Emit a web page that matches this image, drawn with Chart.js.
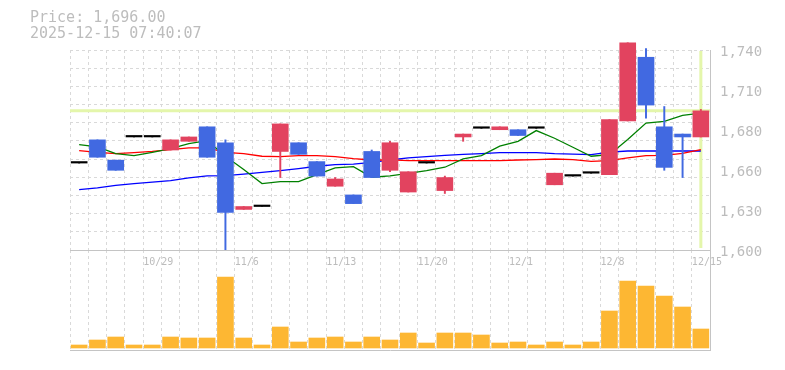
<!DOCTYPE html>
<html>
<head>
<meta charset="utf-8">
<script src="https://cdn.jsdelivr.net/npm/chart.js@4.4.1/dist/chart.umd.min.js"></script>
<style>
    body { margin: 0; background: #fff; }
    #wrap { position: relative; width: 785px; height: 370px; }
    #wrap canvas { position: absolute; left: 0; top: 0; }
    #header {
        position: absolute; left: 30px; top: 9px;
        font: 15px/16px "DejaVu Sans Mono", monospace;
        color: #bdbdbd; white-space: pre;
    }
</style>
</head>
<body>
<div id="wrap">
    <canvas id="graficoVolumen" width="785" height="370"></canvas>
    <canvas id="graficoPrecio" width="785" height="370"></canvas>
    <div id="header">Price: 1,696.00
2025-12-15 07:40:07</div>
</div>
<script>
// datos
const fechas = ['10/23', '10/24', '10/27', '10/28', '10/29', '10/30', '10/31', '11/4', '11/5', '11/6',
    '11/7', '11/10', '11/11', '11/12', '11/13', '11/14', '11/17', '11/18', '11/19', '11/20',
    '11/21', '11/25', '11/26', '11/27', '12/1', '12/2', '12/3', '12/4', '12/5', '12/8',
    '12/9', '12/10', '12/11', '12/12', '12/15'];

const aperturas = [1660, 1676, 1662, 1678, 1678, 1669, 1675, 1685, 1674, 1628,
    1630, 1668, 1674, 1661, 1644, 1638, 1668, 1655, 1640, 1660,
    1641, 1678, 1684, 1683, 1683, 1684, 1645, 1651, 1653, 1652,
    1689, 1733, 1685, 1680, 1678];
const maximos = [1660, 1676, 1662, 1678, 1678, 1676, 1678, 1685, 1676, 1630,
    1630, 1687, 1674, 1661, 1650, 1638, 1669, 1675, 1654, 1660,
    1651, 1680, 1684, 1685, 1683, 1684, 1653, 1651, 1653, 1690,
    1743, 1739, 1699, 1680, 1697];
const minimos = [1660, 1664, 1655, 1678, 1678, 1669, 1675, 1664, 1598, 1628,
    1630, 1650, 1666, 1651, 1644, 1632, 1650, 1654, 1640, 1660,
    1639, 1675, 1684, 1683, 1679, 1684, 1645, 1651, 1653, 1652,
    1689, 1691, 1655, 1650, 1678];
const cierres = [1660, 1664, 1655, 1678, 1678, 1676, 1678, 1664, 1626, 1630,
    1630, 1687, 1666, 1651, 1649, 1632, 1650, 1674, 1654, 1660,
    1650, 1680, 1684, 1685, 1679, 1684, 1653, 1651, 1653, 1690,
    1743, 1700, 1657, 1678, 1696];

const media5 = [1672.7, 1671.2, 1666.5, 1665.1, 1667.4, 1670.0, 1673.4, 1675.5, 1664.7, 1655.5,
    1645.8, 1647.2, 1647.2, 1652.0, 1656.6, 1657.5, 1650.2, 1651.2, 1652.9, 1654.8,
    1657.1, 1662.8, 1665.1, 1671.6, 1675.0, 1682.4, 1677.1, 1670.9, 1664.7, 1665.8,
    1676.2, 1687.6, 1688.8, 1692.9, 1694.5];
const media25 = [1668.6, 1667.4, 1666.5, 1667.2, 1668.1, 1669.3, 1670.4, 1670.4, 1667.4, 1666.5,
    1664.7, 1664.4, 1665.1, 1665.1, 1664.4, 1663.1, 1662.1, 1662.2, 1661.7, 1661.7,
    1661.7, 1661.7, 1661.7, 1661.7, 1662.1, 1662.4, 1662.8, 1662.4, 1661.2, 1661.7,
    1663.5, 1665.1, 1665.3, 1666.7, 1669.3];
const media75 = [1641.7, 1642.8, 1644.6, 1645.8, 1646.9, 1647.9, 1649.7, 1651.1, 1651.3, 1652.4,
    1653.6, 1654.8, 1656.2, 1657.8, 1658.9, 1659.3, 1660.5, 1662.1, 1663.5, 1664.4,
    1665.3, 1666.0, 1666.5, 1667.2, 1667.2, 1667.2, 1666.5, 1666.2, 1665.8, 1667.6,
    1668.3, 1668.3, 1668.3, 1668.3, 1668.3];

const volumenes = [30, 80, 110, 30, 30, 110, 100, 100, 710, 100,
    30, 210, 60, 100, 110, 60, 110, 80, 150, 50,
    150, 150, 130, 50, 60, 30, 60, 30, 60, 370,
    670, 620, 520, 410, 190];

const precioActual = 1696;
const ticksPrecio = [1600, 1627.6, 1655.2, 1682.8, 1710.4, 1738];
const etiquetasPrecio = ['1,600', '1,630', '1,660', '1,680', '1,710', '1,740'];

const ROJO = '#e2435f';
const AZUL = '#4169e1';
const GRILLA = '#d9d9d9';
const BORDE = '#c4c4c4';
const TEXTO = '#bcbcbc';
const FUENTE = '"DejaVu Sans Mono", monospace';

document.addEventListener('DOMContentLoaded', function () {
    get_grafico_precio();
    get_grafico_volumen();
});

function color_vela(i) {
    if (cierres[i] > aperturas[i]) return ROJO;
    if (cierres[i] < aperturas[i]) return AZUL;
    return '#000000';
}

// linea verde del precio actual (horizontal y vertical en la ultima vela)
const cruzPrecio = {
    id: 'cruzPrecio',
    beforeDatasetsDraw(chart) {
        const { ctx, chartArea, scales } = chart;
        const y = scales.y.getPixelForValue(precioActual);
        const x = scales.x.getPixelForValue(fechas.length - 1);
        ctx.save();
        ctx.strokeStyle = '#e4f6ab';
        ctx.lineWidth = 3;
        ctx.beginPath();
        ctx.moveTo(chartArea.left, y);
        ctx.lineTo(chartArea.right, y);
        ctx.moveTo(x, chartArea.top + 1);
        ctx.lineTo(x, chartArea.bottom - 2);
        ctx.stroke();
        ctx.restore();
    }
};

function get_grafico_precio() {
    const ctx = document.getElementById('graficoPrecio').getContext('2d');
    const yMin = ticksPrecio[0];
    const yMax = ticksPrecio[ticksPrecio.length - 1];

    new Chart(ctx, {
        type: 'bar',
        data: {
            labels: fechas,
            datasets: [
                {
                    label: 'Velas',
                    data: aperturas.map((a, i) => [a, cierres[i]]),
                    backgroundColor: fechas.map((f, i) => color_vela(i)),
                    barThickness: 16,
                    minBarLength: 1.5,
                    grouped: false,
                    clip: { left: 0, top: 8, right: 0, bottom: 0 },
                    order: 0
                },
                {
                    label: 'Mechas',
                    data: minimos.map((m, i) => [m, maximos[i]]),
                    backgroundColor: fechas.map((f, i) => color_vela(i)),
                    barThickness: 1.3,
                    grouped: false,
                    clip: { left: 0, top: 8, right: 0, bottom: 0 },
                    order: 1
                },
                {
                    type: 'line',
                    label: 'MA5',
                    data: media5,
                    borderColor: '#008000',
                    borderWidth: 1.3,
                    pointRadius: 0,
                    order: 2
                },
                {
                    type: 'line',
                    label: 'MA25',
                    data: media25,
                    borderColor: '#ff0000',
                    borderWidth: 1.3,
                    pointRadius: 0,
                    order: 3
                },
                {
                    type: 'line',
                    label: 'MA75',
                    data: media75,
                    borderColor: '#0000ff',
                    borderWidth: 1.3,
                    pointRadius: 0,
                    order: 4
                }
            ]
        },
        options: {
            responsive: false,
            animation: false,
            layout: { padding: { left: 70, top: 50, right: 0, bottom: 0 } },
            plugins: {
                legend: { display: false },
                tooltip: { enabled: false }
            },
            scales: {
                x: {
                    offset: true,
                    grid: { offset: true, color: GRILLA, drawTicks: false },
                    border: { color: BORDE, dash: [3, 3] },
                    ticks: {
                        autoSkip: false,
                        maxRotation: 0,
                        align: 'start',
                        labelOffset: -9,
                        padding: 6,
                        color: TEXTO,
                        font: { family: FUENTE, size: 10 },
                        callback: function (val, index) {
                            return (fechas.length - 1 - index) % 5 === 0 ? this.getLabelForValue(val) : '';
                        }
                    },
                    afterFit: function (scale) { scale.height = 120; }
                },
                y: {
                    position: 'right',
                    min: yMin,
                    max: yMax,
                    grid: { display: false, drawTicks: false },
                    border: { color: BORDE },
                    afterBuildTicks: function (scale) {
                        scale.ticks = ticksPrecio.map(v => ({ value: v }));
                    },
                    ticks: {
                        padding: 10,
                        labelOffset: 2,
                        color: TEXTO,
                        font: { family: FUENTE, size: 14 },
                        callback: function (val, index) { return etiquetasPrecio[index]; }
                    },
                    afterFit: function (scale) { scale.width = 75; }
                },
                yGrilla: {
                    position: 'left',
                    min: yMin,
                    max: yMax,
                    grid: {
                        drawTicks: false,
                        color: function (c) { return c.index === 0 ? 'rgba(0,0,0,0)' : GRILLA; }
                    },
                    border: { display: false, dash: [3, 3] },
                    ticks: { display: false },
                    afterBuildTicks: function (scale) {
                        const t = [];
                        for (let i = 0; i <= 11; i++) t.push({ value: yMin + (yMax - yMin) * i / 11 });
                        scale.ticks = t;
                    },
                    afterFit: function (scale) { scale.width = 0; }
                }
            }
        },
        plugins: [cruzPrecio]
    });
}

function get_grafico_volumen() {
    const ctx = document.getElementById('graficoVolumen').getContext('2d');

    new Chart(ctx, {
        type: 'bar',
        data: {
            labels: fechas,
            datasets: [{
                label: 'Volumen',
                data: volumenes,
                backgroundColor: '#fdb733',
                barThickness: 16
            }]
        },
        options: {
            responsive: false,
            animation: false,
            layout: { padding: { left: 70, top: 250, right: 75, bottom: 0 } },
            plugins: {
                legend: { display: false },
                tooltip: { enabled: false }
            },
            scales: {
                x: {
                    offset: true,
                    grid: { offset: true, color: GRILLA, drawTicks: false },
                    border: { color: BORDE, dash: [3, 3] },
                    ticks: { display: false },
                    afterFit: function (scale) { scale.height = 20; }
                },
                y: {
                    position: 'right',
                    min: -20,
                    max: 980,
                    grid: { display: false, drawTicks: false },
                    border: { color: BORDE },
                    ticks: { display: false },
                    afterFit: function (scale) { scale.width = 0; }
                }
            }
        }
    });
}
</script>
</body>
</html>
